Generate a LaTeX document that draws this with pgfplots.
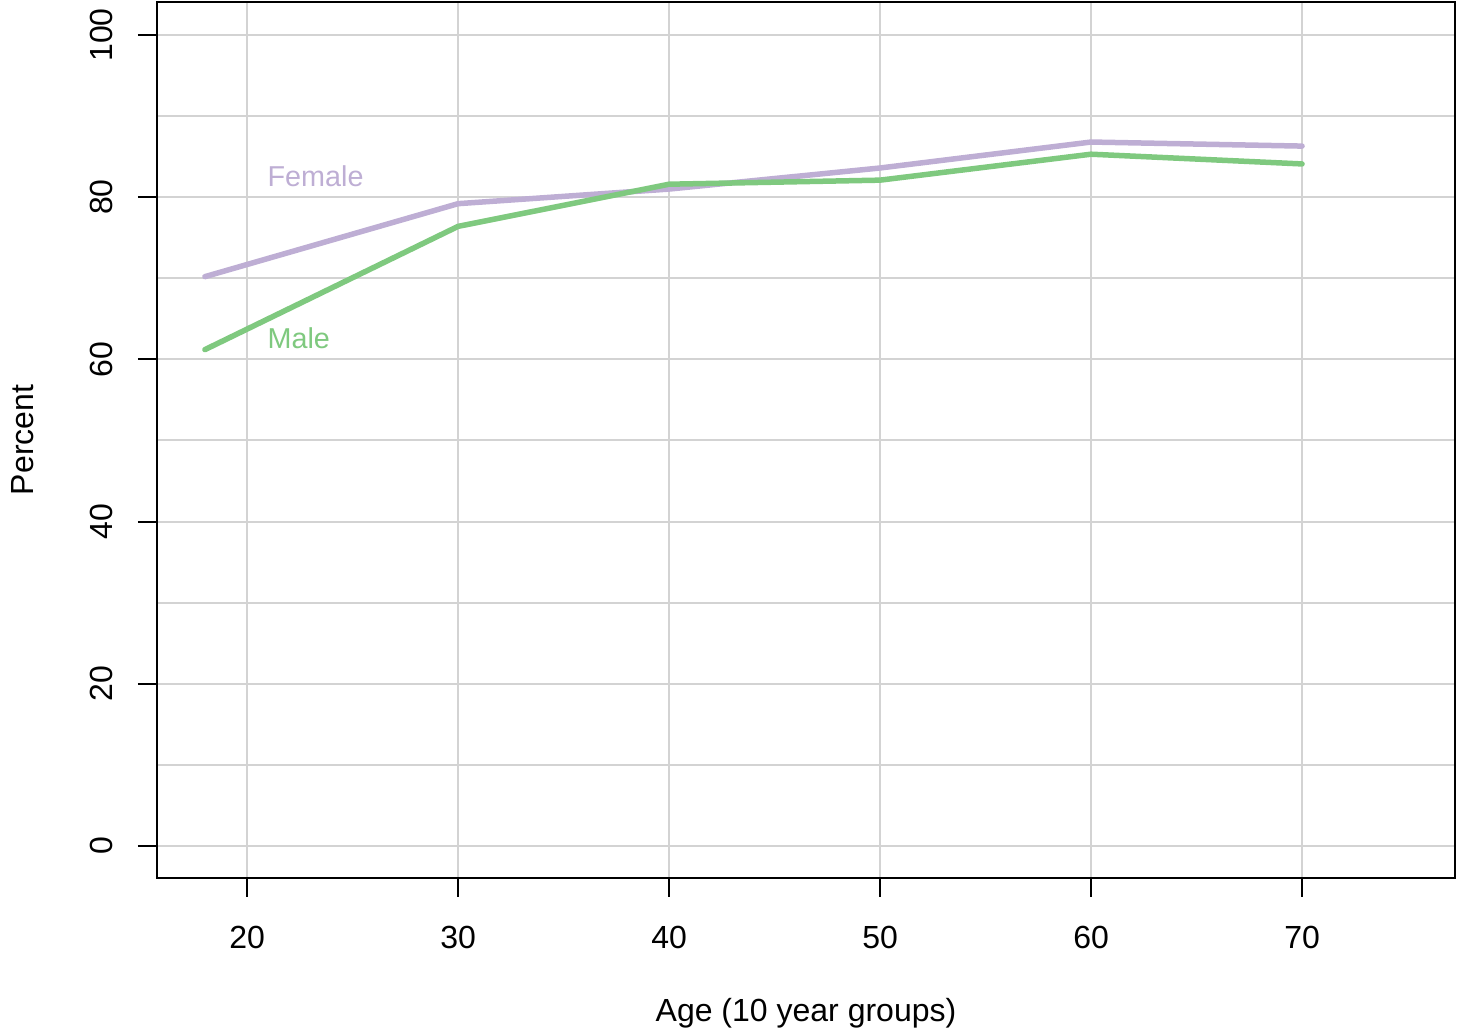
\documentclass[border=0pt]{standalone}
\usepackage{pgfplots}
\pgfplotsset{compat=1.18}
\usepackage{fontspec}
\setmainfont{Liberation Sans}
\definecolor{fem}{HTML}{BEAED4}
\definecolor{mal}{HTML}{7FC97F}
\definecolor{gridc}{HTML}{D3D3D3}
\begin{document}
\fontsize{12.8}{15}\selectfont
\begin{tikzpicture}
\useasboundingbox (-62.8pt,-62.4pt) rectangle (522.4pt,351.2pt);
\begin{axis}[
  scale only axis, width=519.2pt, height=350.4pt,
  at={(0,0)}, anchor=south west,
  xmin=15.73, xmax=77.25, ymin=-3.95, ymax=104.07,
  xtick={20,30,...,70}, ytick={0,20,...,100}, minor ytick={10,30,...,90},
  grid=both,
  major grid style={gridc, line width=0.8pt},
  minor grid style={gridc, line width=0.8pt},
  axis line style={line width=0.8pt},
  tick align=outside, major tick length=7.6pt, minor tick length=0pt,
  tick style={black, line width=0.8pt},
  tick pos=left,
  /pgf/number format/assume math mode=true,
  tick label style={font=\fontsize{12.8}{15}\selectfont},
  xticklabel style={anchor=center},
  yticklabel style={rotate=90, anchor=center},
  xticklabel shift=16pt,
  yticklabel shift=14.8pt,
  xlabel={Age (10 year groups)}, ylabel={Percent},
  label style={font=\fontsize{12.8}{15}\selectfont},
  xlabel style={at={(axis description cs:0.5,-0.1541)}, anchor=center},
  ylabel style={at={(axis description cs:-0.1032,0.5)}, anchor=center},
]
\addplot[fem, line width=2.2pt, line cap=round, line join=round] coordinates {
  (18,70.2) (30,79.2) (40,81.0) (50,83.6) (60,86.8) (70,86.3)};
\addplot[mal, line width=2.2pt, line cap=round, line join=round] coordinates {
  (18,61.2) (30,76.4) (40,81.6) (50,82.1) (60,85.3) (70,84.1)};
\node[anchor=west, inner sep=0pt, text=fem, font=\fontsize{11.5}{13}\selectfont] at (axis cs:20.95,82.6) {Female};
\node[anchor=west, inner sep=0pt, text=mal, font=\fontsize{11.5}{13}\selectfont] at (axis cs:20.95,62.6) {Male};
\end{axis}
\end{tikzpicture}
\end{document}
